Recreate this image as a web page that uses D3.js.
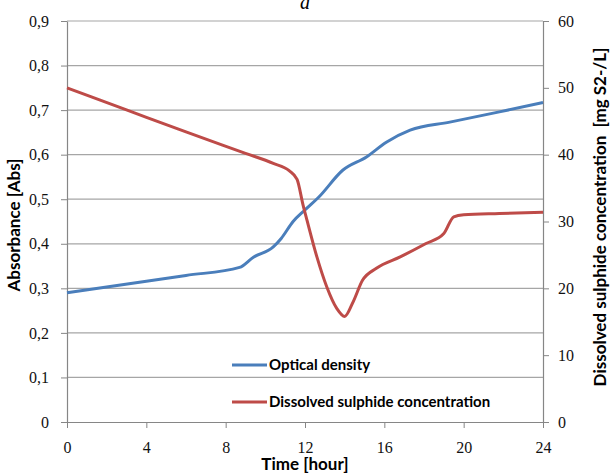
<!DOCTYPE html>
<html>
<head>
<meta charset="utf-8">
<script src="https://cdn.jsdelivr.net/npm/d3@7"></script>
<style>
  body { margin: 0; background: #fff; }
  .tick text { font-family: "Liberation Serif", serif; font-size: 16px; fill: #111; }
  .axis path, .axis line { stroke: #868686; }
  .title { font-family: Lato, "Open Sans", sans-serif; fill: #000; }
</style>
</head>
<body>
<div id="chart"></div>
<script>
// optical density (left axis)
var odHours = [0, 2, 4, 6, 8.7, 9.4, 10.4, 10.8, 11.4, 12, 12.7, 13.9, 15.1, 16.1, 17.3, 19.3, 21.8, 24];
var odValues = [0.290, 0.303, 0.316, 0.329, 0.347, 0.370, 0.393, 0.412, 0.450, 0.476, 0.505, 0.565, 0.595, 0.628, 0.655, 0.673, 0.696, 0.717];

// dissolved sulphide (right axis)
var sHours = [0, 3, 6, 9, 10.4, 11.2, 11.6, 11.9, 12.1, 12.6, 13.1, 13.6, 14.0, 14.4, 14.9, 15.6, 16.8, 18.1, 19.0, 19.5, 20.0, 21.8, 24];
var sValues = [50.0, 46.7, 43.4, 40.2, 38.7, 37.6, 36.3, 32.5, 30.2, 24.7, 20.2, 17.0, 15.8, 17.8, 21.2, 23.0, 24.7, 26.7, 28.2, 30.7, 31.0, 31.2, 31.4];

var xTicks = [0, 4, 8, 12, 16, 20, 24];
var leftTicks = [0, 0.1, 0.2, 0.3, 0.4, 0.5, 0.6, 0.7, 0.8, 0.9];
var rightTicks = [0, 10, 20, 30, 40, 50, 60];
var seriesNames = ["Optical density", "Dissolved sulphide concentration"];
var colors = ["#4a7ebb", "#be4b48"];

var W = 614, H = 476;
var margin = { top: 21, right: 71, bottom: 54, left: 67 },
  width = W - margin.left - margin.right,
  height = H - margin.top - margin.bottom;

var svg = d3.select("#chart").append("svg").attr("width", W).attr("height", H);
var g = svg.append("g").attr("transform", "translate(" + margin.left + "," + margin.top + ")");

var x = d3.scaleLinear().domain([0, 24]).range([0, width]);
var yL = d3.scaleLinear().domain([0, 0.9]).range([height, 0]);
var yR = d3.scaleLinear().domain([0, 60]).range([height, 0]);

// gridlines
g.append("g").selectAll("line").data(leftTicks.slice(1)).enter().append("line")
  .attr("x1", 0).attr("x2", width)
  .attr("y1", function(d) { return yL(d); }).attr("y2", function(d) { return yL(d); })
  .attr("stroke", "#a6a6a6").attr("stroke-width", 1.2);

var comma = function(d) { return d === 0 ? "0" : d3.format(".1f")(d).replace(".", ","); };

g.append("g").attr("class", "axis")
  .call(d3.axisLeft(yL).tickValues(leftTicks).tickFormat(comma).tickSize(6).tickSizeOuter(0).tickPadding(12));
g.append("g").attr("class", "axis").attr("transform", "translate(" + width + ",0)")
  .call(d3.axisRight(yR).tickValues(rightTicks).tickSize(6).tickSizeOuter(0).tickPadding(9));
g.append("g").attr("class", "axis").attr("transform", "translate(0," + height + ")")
  .call(d3.axisBottom(x).tickValues(xTicks).tickSize(6).tickSizeOuter(0).tickPadding(14));
g.selectAll(".axis .domain").attr("stroke-width", 1.2);

// series
var lineOD = d3.line().curve(d3.curveMonotoneX)
  .x(function(d, i) { return x(odHours[i]); }).y(function(d) { return yL(d); });
var lineS = d3.line().curve(d3.curveMonotoneX)
  .x(function(d, i) { return x(sHours[i]); }).y(function(d) { return yR(d); });

g.append("path").datum(odValues).attr("d", lineOD)
  .attr("fill", "none").attr("stroke", colors[0]).attr("stroke-width", 3);
g.append("path").datum(sValues).attr("d", lineS)
  .attr("fill", "none").attr("stroke", colors[1]).attr("stroke-width", 3);

// legend
var legend = svg.append("g").selectAll("g").data(seriesNames).enter().append("g")
  .attr("transform", function(d, i) { return "translate(232," + (365 + i * 37) + ")"; });
legend.append("line").attr("x1", 0).attr("x2", 35)
  .attr("stroke", function(d, i) { return colors[i]; }).attr("stroke-width", 3);
legend.append("text").attr("class", "title").attr("x", 37).attr("dy", "0.35em")
  .style("font-size", "15px").style("font-weight", "bold").text(function(d) { return d; });

// titles
svg.append("text").attr("x", margin.left + width / 2).attr("y", 9)
  .attr("text-anchor", "middle").style("font-family", "Liberation Serif, serif")
  .style("font-style", "italic").style("font-size", "20px").text("a");

svg.append("text").attr("class", "title").attr("text-anchor", "middle")
  .attr("transform", "translate(20,225) rotate(-90)")
  .style("font-size", "17px").style("font-weight", "bold").text("Absorbance [Abs]");

svg.append("text").attr("class", "title").attr("text-anchor", "middle")
  .attr("transform", "translate(606,217) rotate(-90)")
  .style("font-size", "17px").style("font-weight", "bold").text("Dissolved sulphide concentration\u00a0\u00a0[mg S2-/L]");

svg.append("text").attr("class", "title").attr("text-anchor", "middle")
  .attr("x", margin.left + width / 2).attr("y", 470)
  .style("font-size", "17px").style("font-weight", "bold").text("Time [hour]");
</script>
</body>
</html>
